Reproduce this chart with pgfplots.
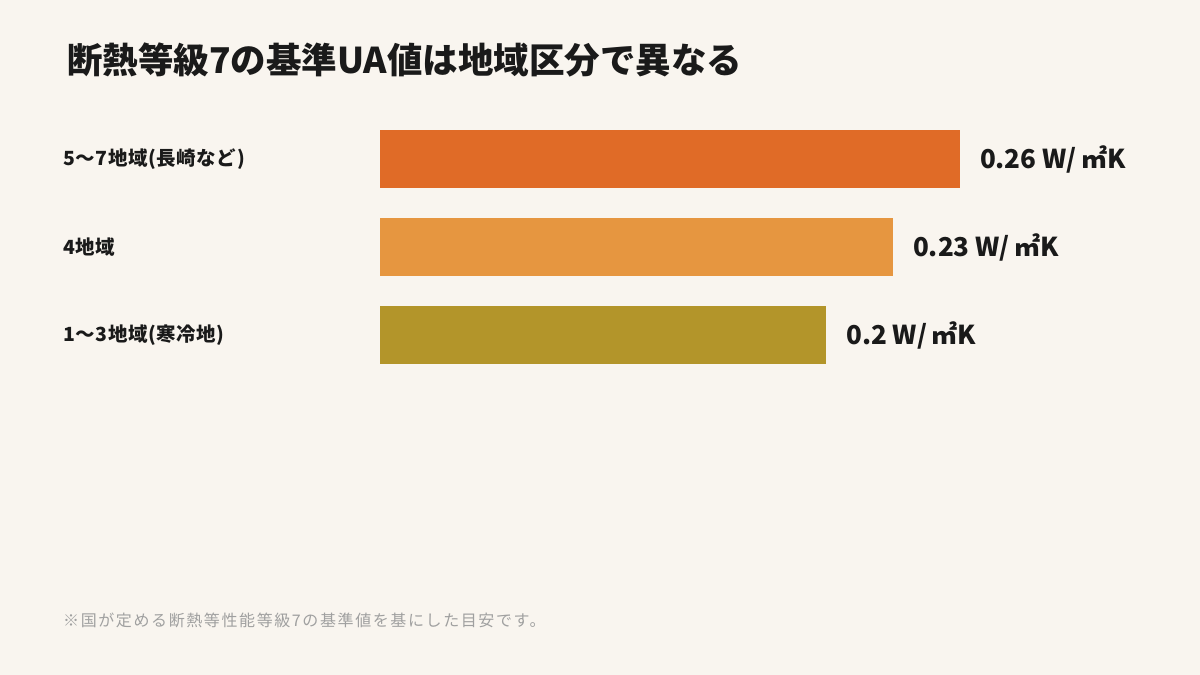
\documentclass[border=0pt]{standalone}
\usepackage{pgfplots}
\pgfplotsset{compat=1.18}
\usepackage{fontspec}
\setmainfont{Noto Sans CJK JP}
\definecolor{bg}{HTML}{F9F5EF}
\definecolor{c1}{HTML}{E06B27}
\definecolor{c2}{HTML}{E69640}
\definecolor{c3}{HTML}{B3952A}
\definecolor{ink}{HTML}{1A1A1A}
\definecolor{note}{HTML}{A0A0A0}
\begin{document}
\begin{tikzpicture}[x=1bp,y=1bp]
\fill[bg] (0,0) rectangle (1200,675);
\node[anchor=west,inner sep=0,text=ink,font=\fontsize{35.5bp}{40bp}\selectfont\bfseries] at (67,615) {断熱等級7の基準UA値は地域区分で異なる};
\node[anchor=west,inner sep=0,text=note,font=\fontsize{16bp}{18bp}\selectfont\addfontfeatures{LetterSpace=10}] at (63,55) {※国が定める断熱等性能等級7の基準値を基にした目安です。};
\begin{axis}[
  at={(380bp,296bp)}, anchor=south west,
  scale only axis, width=669bp, height=264bp,
  xmin=0, xmax=0.3, ymin=-0.5, ymax=2.5,
  xbar, bar width=58bp, bar shift=0pt,
  axis line style={draw=none},
  major tick length=0pt,
  xtick=\empty,
  ytick={0,1,2},
  yticklabels={1〜3地域(寒冷地),4地域,5〜7地域(長崎など)},
  yticklabel style={anchor=west, inner sep=0pt, xshift=-317bp, text=ink, font=\fontsize{19.5bp}{22bp}\selectfont\bfseries\addfontfeatures{LetterSpace=3}},
  point meta=explicit symbolic,
  nodes near coords={\pgfplotspointmeta\ W/\,㎡K},
  every node near coord/.append style={anchor=west, inner sep=0pt, xshift=20bp, text=ink, font=\fontsize{26bp}{28bp}\selectfont\bfseries},
  clip=false,
]
\addplot[fill=c1, draw=none] coordinates {(0.26,2) [0.26]};
\addplot[fill=c2, draw=none] coordinates {(0.23,1) [0.23]};
\addplot[fill=c3, draw=none] coordinates {(0.2,0) [0.2]};
\end{axis}
\end{tikzpicture}
\end{document}
